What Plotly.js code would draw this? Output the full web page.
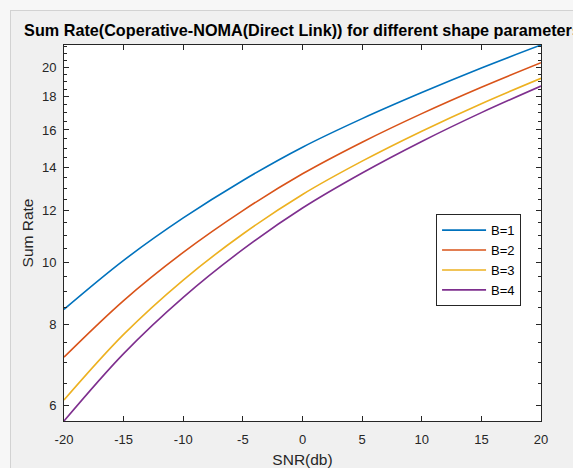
<!DOCTYPE html>
<html>
<head>
<meta charset="utf-8">
<script src="https://cdn.plot.ly/plotly-3.0.1.min.js"></script>
<style>
  html, body { margin: 0; padding: 0; background: #f7f7f7; }
  #frame { position: absolute; left: 10px; top: 10px; width: 563px; height: 458px;
           background: #f0f0f0; border-left: 1px solid #d2d2d2; border-top: 1px solid #d2d2d2;
           box-sizing: border-box; }
  #plot { position: absolute; left: 0; top: 0; width: 573px; height: 468px; }
</style>
</head>
<body>
<div id="frame"></div>
<div id="plot"></div>
<script>
// SNR in dB
const snr = [-20, -15, -10, -5, 0, 5, 10, 15, 20];
// Sum rate for each shape parameter B
const rateB1 = [8.45, 10.06, 11.70, 13.37, 15.05, 16.66, 18.28, 19.95, 21.65];
const rateB2 = [7.13, 8.72, 10.35, 12.01, 13.69, 15.32, 16.96, 18.63, 20.33];
const rateB3 = [6.12, 7.73, 9.38, 11.05, 12.72, 14.32, 15.93, 17.57, 19.23];
const rateB4 = [5.68, 7.22, 8.82, 10.46, 12.12, 13.73, 15.36, 17.02, 18.71];
const seriesNames = ['B=1', 'B=2', 'B=3', 'B=4'];

// tick labels
const xTicks = [-20, -15, -10, -5, 0, 5, 10, 15, 20];
const yTicks = [6, 8, 10, 12, 14, 16, 18, 20];
const yMinorTicks = [5.5, 6.5, 7, 7.5, 8.5, 9, 9.5, 10.5, 11, 11.5, 12.5, 13, 13.5,
                     14.5, 15, 15.5, 16.5, 17, 17.5, 18.5, 19, 19.5, 20.5, 21, 21.5];

const colors = ['#0072BD', '#D95319', '#EDB120', '#7E2F8E'];
const FONT = '"Liberation Sans", Arial, Helvetica, sans-serif';
const axisColor = '#262626';

const allSeries = [rateB1, rateB2, rateB3, rateB4];
const traces = allSeries.map((ys, i) => ({
  x: snr, y: ys, name: seriesNames[i], type: 'scatter', mode: 'lines',
  line: { color: colors[i], width: 1.6, shape: 'spline', smoothing: 1 }
}));

const yMin = Math.min(...rateB4);
const yMax = Math.max(...rateB1);

const layout = {
  width: 573, height: 468,
  margin: { l: 64, r: 32, t: 45, b: 47, pad: 0 },
  paper_bgcolor: 'rgba(0,0,0,0)',
  plot_bgcolor: '#ffffff',
  font: { family: FONT, size: 13, color: axisColor },
  title: {
    text: '<b>Sum Rate(Coperative-NOMA(Direct Link)) for different shape parameters</b>',
    font: { family: FONT, size: 16.2, color: '#000000' },
    xref: 'paper', x: 0.5, xanchor: 'center',
    yref: 'container', y: 1 - 30 / 468, yanchor: 'middle'
  },
  xaxis: {
    range: [-20, 20],
    tickmode: 'array', tickvals: xTicks, ticktext: xTicks.map(String),
    ticks: 'inside', ticklen: 5, tickwidth: 1, tickcolor: axisColor,
    showline: true, linecolor: axisColor, linewidth: 1, mirror: 'ticks',
    showgrid: false, zeroline: false,
    tickfont: { family: FONT, size: 13, color: axisColor },
    ticklabelstandoff: 6,
    title: { text: 'SNR(db)', font: { family: FONT, size: 15.5, color: axisColor }, standoff: 8 }
  },
  yaxis: {
    type: 'log',
    range: [Math.log10(yMin), Math.log10(yMax)],
    tickmode: 'array', tickvals: yTicks, ticktext: yTicks.map(String),
    ticks: 'inside', ticklen: 5, tickwidth: 1, tickcolor: axisColor,
    minor: { tickmode: 'array', tickvals: yMinorTicks, ticks: 'inside', ticklen: 3,
             tickwidth: 1, tickcolor: axisColor, showgrid: false },
    showline: true, linecolor: axisColor, linewidth: 1, mirror: 'ticks',
    showgrid: false, zeroline: false,
    tickfont: { family: FONT, size: 13, color: axisColor },
    ticklabelstandoff: 4,
    title: { text: 'Sum Rate', font: { family: FONT, size: 15.5, color: axisColor }, standoff: 4 }
  },
  showlegend: true,
  legend: {
    x: 0.78, xanchor: 'left', y: 0.55, yanchor: 'top',
    bgcolor: '#ffffff', bordercolor: axisColor, borderwidth: 1,
    font: { family: FONT, size: 13, color: '#000000' },
    tracegroupgap: 0, itemwidth: 44
  }
};

Plotly.newPlot('plot', traces, layout, { displayModeBar: false, staticPlot: true });
</script>
</body>
</html>
